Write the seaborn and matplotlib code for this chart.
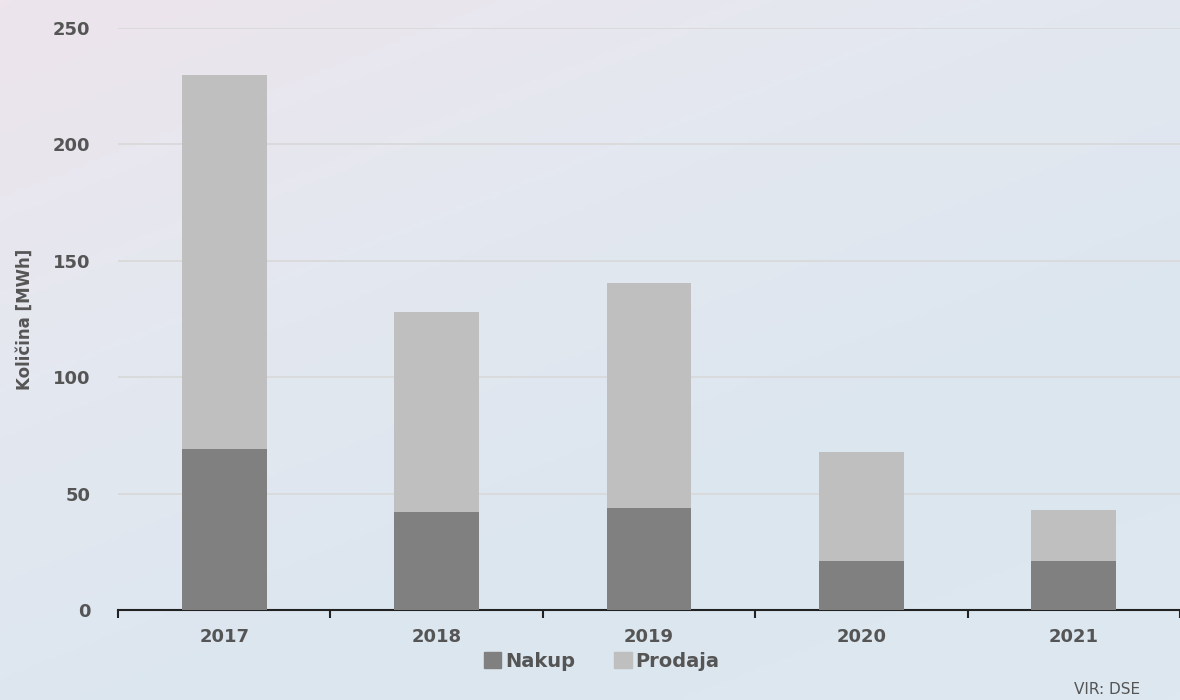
import numpy as np
import pandas as pd
import seaborn as sns
import matplotlib.pyplot as plt
from matplotlib.patches import Patch
from matplotlib.colors import LinearSegmentedColormap

# podatki (odčitano iz grafa)
leta = ["2017", "2018", "2019", "2020", "2021"]
nakup = [69, 42, 44, 21, 21]
prodaja = [161, 86, 96.5, 47, 22]

df = pd.DataFrame({"leto": leta, "Nakup": nakup, "Prodaja": prodaja})
df["skupaj"] = df["Nakup"] + df["Prodaja"]

sns.set_style("white")
plt.rcParams["font.family"] = ["DejaVu Sans"]

fig = plt.figure(figsize=(11.8, 7), dpi=100)

# ozadje - rahel gradient
bg = fig.add_axes([0, 0, 1, 1], zorder=-10)
cmap = LinearSegmentedColormap.from_list("bg", ["#ede4ec", "#e4e8f0", "#dce6ef", "#dde8f0"])
xx, yy = np.meshgrid(np.linspace(0, 1, 200), np.linspace(0, 1, 200))
bg.imshow(0.6 * xx + 0.9 * yy, cmap=cmap, aspect="auto", extent=[0, 1, 0, 1], origin="upper")
bg.axis("off")

ax = fig.add_axes([0.1, 0.1286, 0.9, 0.8314])
ax.patch.set_alpha(0)

sns.barplot(data=df, x="leto", y="skupaj", color="#bfbfbf", width=0.4,
            saturation=1, linewidth=0, edgecolor="none", ax=ax, zorder=3)
sns.barplot(data=df, x="leto", y="Nakup", color="#808080", width=0.4,
            saturation=1, linewidth=0, edgecolor="none", ax=ax, zorder=4)

ax.set_ylim(0, 250)
ax.set_xlim(-0.5, 4.5)
ax.set_yticks([0, 50, 100, 150, 200, 250])
ax.yaxis.grid(True, color="#d9d9d9", linewidth=1.3, zorder=0)
ax.set_axisbelow(True)

for s in ["top", "right", "left"]:
    ax.spines[s].set_visible(False)
ax.spines["bottom"].set_color("#222222")
ax.spines["bottom"].set_linewidth(1.5)

ax.set_xticks(np.arange(-0.5, 5, 1), minor=True)
ax.tick_params(axis="x", which="minor", bottom=True, length=6, width=1.5,
               color="#222222", direction="out")
ax.tick_params(axis="x", which="major", bottom=False, length=0, pad=13,
               labelsize=13, labelcolor="#555555")
ax.tick_params(axis="y", length=0, pad=20, labelsize=13, labelcolor="#555555")
for lbl in ax.get_xticklabels() + ax.get_yticklabels():
    lbl.set_fontweight("bold")

ax.set_xlabel("")
ax.set_ylabel("Količina [MWh]", fontsize=12, color="#555555", labelpad=14,
              fontweight="bold")

handles = [Patch(color="#808080", label="Nakup"), Patch(color="#bfbfbf", label="Prodaja")]
fig.legend(handles=handles, loc="center", bbox_to_anchor=(0.51, 0.055), ncol=2,
           frameon=False, handlelength=0.9, handleheight=0.9, handletextpad=0.2,
           columnspacing=2.0, prop={"size": 14, "weight": "bold"}, labelcolor="#555555")

fig.text(0.91, 0.004, "VIR: DSE", fontsize=11, color="#555555", va="bottom")

fig.savefig("out.png", dpi=100)
